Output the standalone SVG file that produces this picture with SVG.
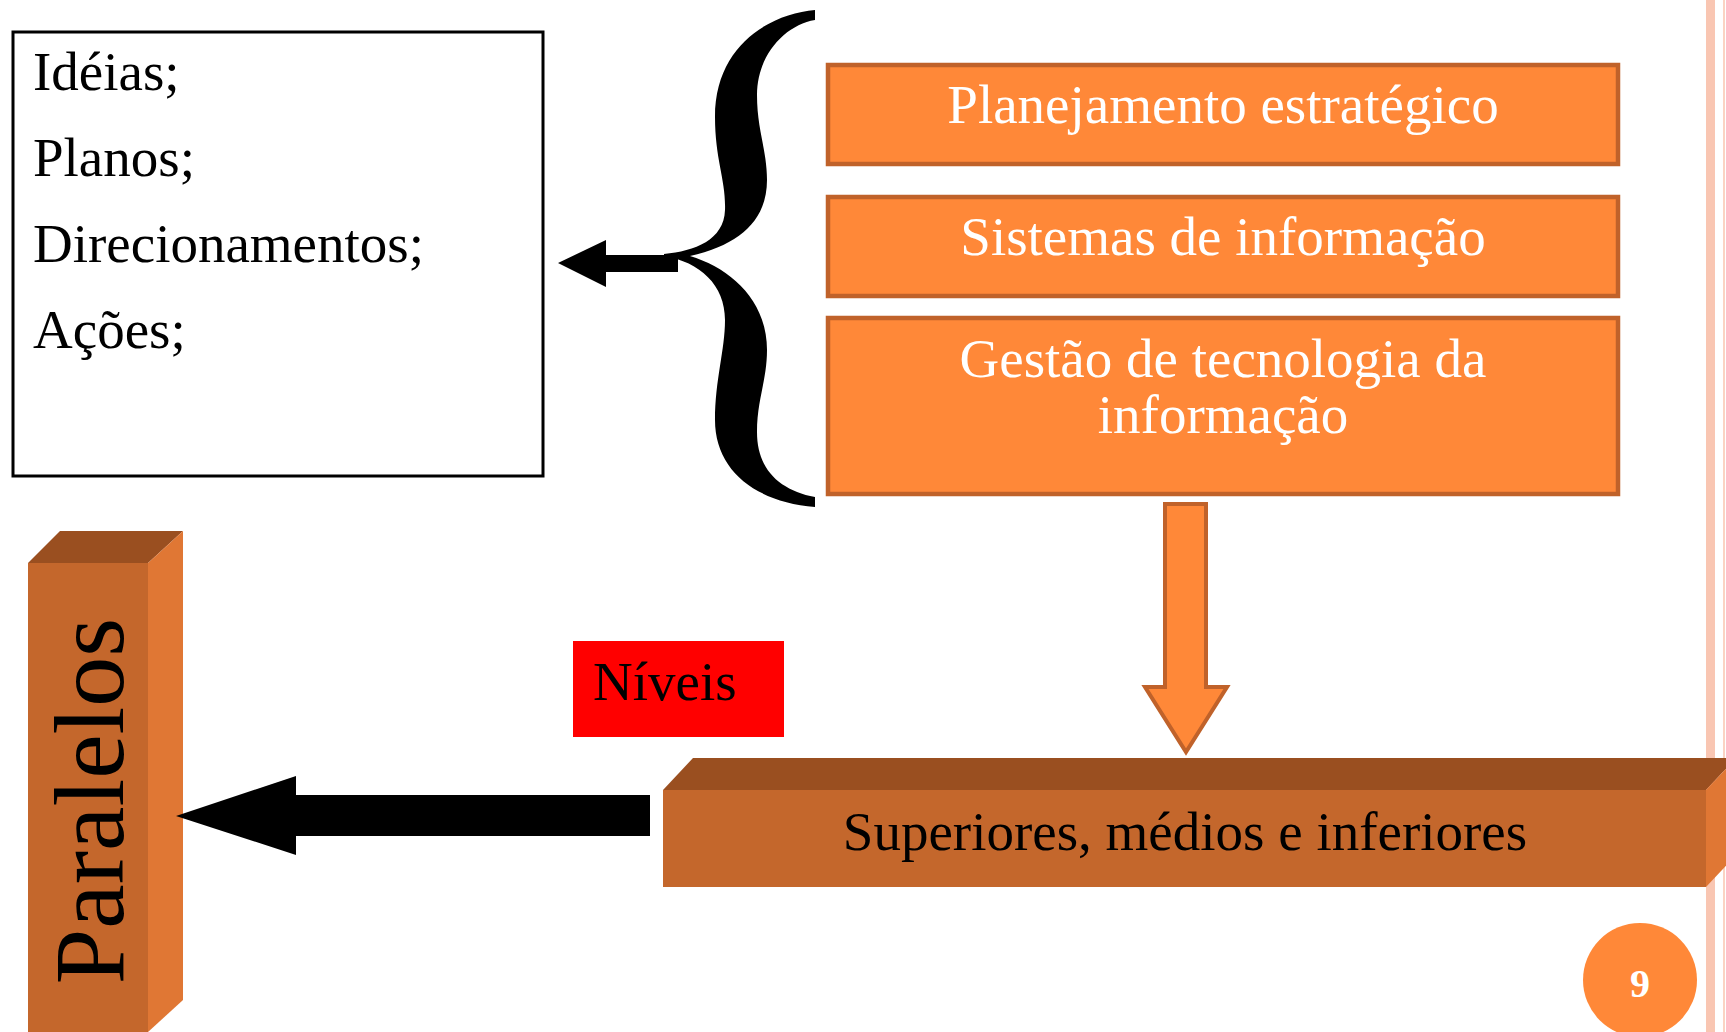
<svg xmlns="http://www.w3.org/2000/svg" width="1726" height="1032" viewBox="0 0 1726 1032">
<style>
.serif{font-family:"Liberation Serif","DejaVu Serif",serif;font-size:55px}
.wt{fill:#ffffff}
.bk{fill:#000000}
.obox{fill:#FF8838;stroke:#C0622A;stroke-width:4.5}
.top{fill:#9A4F20}
.front{fill:#C4672C}
.side{fill:#E07734}
</style>
<rect x="0" y="0" width="1726" height="1032" fill="#ffffff"/>
<g id="decor">
<rect x="1706" y="0" width="9" height="1032" fill="#F9C6B2"/>
<rect x="1723" y="0" width="2" height="1032" fill="#FBD3C3"/>
</g>
<g id="node-list">
<rect x="13" y="32" width="530" height="444" fill="#ffffff" stroke="#000000" stroke-width="3"/>
<text class="serif bk" x="33" y="90">Idéias;</text>
<text class="serif bk" x="33" y="176">Planos;</text>
<text class="serif bk" x="33" y="262">Direcionamentos;</text>
<text class="serif bk" x="33" y="348">Ações;</text>
</g>
<g id="brace">
<path d="M815,10 C770,14 715,45 715,117 C715,160 726,180 725,210 C724,240 695,251 664,254 L664,256 C700,262 725,285 725,320 C725,350 715,380 715,420 C715,470 755,502 815,507 L815,497 C780,490 757,470 757,432 C757,400 767,380 767,350 C767,300 730,268 690,256 C740,245 767,220 767,180 C767,150 757,130 757,95 C757,55 785,25 815,20 Z" fill="#000000"/>
</g>
<g id="node-planejamento">
<rect class="obox" x="828" y="65" width="790" height="99"/>
<text class="serif wt" x="1223" y="123" text-anchor="middle">Planejamento estratégico</text>
</g>
<g id="node-sistemas">
<rect class="obox" x="828" y="197" width="790" height="99"/>
<text class="serif wt" x="1223" y="255" text-anchor="middle">Sistemas de informação</text>
</g>
<g id="node-gestao">
<rect class="obox" x="828" y="318" width="790" height="176"/>
<text class="serif wt" x="1223" y="377" text-anchor="middle">Gestão de tecnologia da</text>
<text class="serif wt" x="1223" y="433" text-anchor="middle">informação</text>
</g>
<g id="node-niveis">
<rect x="573" y="641" width="211" height="96" fill="#FF0000"/>
<text class="serif bk" x="593" y="700">Níveis</text>
</g>
<g id="node-superiores">
<polygon class="top" points="663,790 693,758 1736,758 1706,790"/>
<rect class="front" x="663" y="790" width="1043" height="97"/>
<polygon class="side" points="1706,790 1736,758 1736,855 1706,887"/>
<text class="serif bk" x="1185" y="850" text-anchor="middle">Superiores, médios e inferiores</text>
</g>
<g id="node-paralelos">
<polygon class="top" points="28,563 60,531 183,531 148,563"/>
<rect class="front" x="28" y="563" width="120" height="480"/>
<polygon class="side" points="148,563 183,531 183,1000 148,1032"/>
<text class="serif bk" style="font-size:100px" text-anchor="middle" transform="translate(123,801) rotate(-90)">Paralelos</text>
</g>
<g id="connectors">
<polygon points="558,263 606,240 606,255 678,255 678,272 606,272 606,287" fill="#000000"/>
<polygon points="1165,504 1206,504 1206,687 1227,687 1186,752 1145,687 1165,687" fill="#FF8838" stroke="#C0622A" stroke-width="4"/>
<polygon points="176,816 296,776 296,795 650,795 650,836 296,836 296,855" fill="#000000"/>
</g>
<g id="page-number">
<circle cx="1640" cy="980" r="57" fill="#FF8838"/>
<text x="1640" y="997" text-anchor="middle" font-family="Liberation Serif, serif" font-weight="bold" font-size="40" fill="#ffffff">9</text>
</g>
</svg>
